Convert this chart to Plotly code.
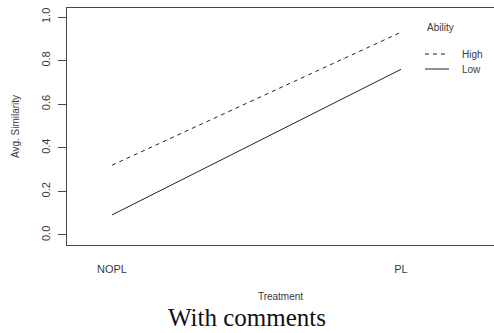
import plotly.graph_objects as go

# Interaction of treatment and ability on average similarity
treatments = ["NOPL", "PL"]
ability_levels = ["High", "Low"]
high_ability = [0.32, 0.93]
low_ability = [0.092, 0.76]
y_ticks = [0.0, 0.2, 0.4, 0.6, 0.8, 1.0]
y_tick_labels = ["0.0", "0.2", "0.4", "0.6", "0.8", "1.0"]

ink = "#222222"
text_col = "#3a3a3a"
sans = "Liberation Sans, Arial, sans-serif"
dash_styles = {"High": "4px,4px", "Low": "solid"}

fig = go.Figure()
for level, values in zip(ability_levels, [high_ability, low_ability]):
    fig.add_trace(go.Scatter(
        x=treatments, y=values, mode="lines", name=level,
        line=dict(color=ink, width=1, dash=dash_styles[level]),
        showlegend=False,
    ))

# Compact legend in the upper right corner, drawn as swatches plus labels
legend_x0, legend_x1, text_x = 0.8384, 0.8946, 0.9204
legend_rows = [0.8059, 0.7426]
shapes = []
annotations = [dict(
    text="Ability", xref="paper", yref="paper", x=legend_x0, y=0.9198,
    xanchor="left", yanchor="middle", showarrow=False,
    font=dict(family=sans, size=10, color=text_col),
)]
for level, row in zip(ability_levels, legend_rows):
    shapes.append(dict(
        type="line", xref="paper", yref="paper",
        x0=legend_x0, x1=legend_x1, y0=row, y1=row,
        line=dict(color=ink, width=1, dash=dash_styles[level]),
    ))
    annotations.append(dict(
        text=level, xref="paper", yref="paper", x=text_x, y=row,
        xanchor="left", yanchor="middle", showarrow=False,
        font=dict(family=sans, size=10, color=text_col),
    ))

# Caption under the figure
annotations.append(dict(
    text="With comments", xref="paper", yref="paper",
    x=0.4227, y=-0.3038, xanchor="center", yanchor="middle", showarrow=False,
    font=dict(family="Liberation Serif, Times New Roman, serif", size=25, color="#111111"),
))

fig.update_layout(
    width=494, height=333,
    margin=dict(l=67, r=0, t=8, b=88),
    plot_bgcolor="white", paper_bgcolor="white",
    font=dict(family=sans, color=text_col, size=10),
    showlegend=False,
    xaxis=dict(
        type="category", categoryorder="array", categoryarray=treatments,
        range=[-0.1557, 1.3218],
        showline=True, linecolor="#444444", linewidth=1, mirror=True,
        showgrid=False, zeroline=False,
        ticks="", ticklabelstandoff=14,
        tickfont=dict(size=11, color=text_col),
        title=dict(text="Treatment", font=dict(size=10, color=text_col), standoff=18),
    ),
    yaxis=dict(
        range=[-0.0459, 1.0413],
        tickvals=y_ticks, ticktext=y_tick_labels,
        showline=True, linecolor="#444444", linewidth=1, mirror=False,
        showgrid=False, zeroline=False,
        ticks="outside", ticklen=8, tickcolor="#444444", tickwidth=1,
        tickangle=-90, ticklabelstandoff=4,
        tickfont=dict(size=11, color=text_col),
        title=dict(text="Avg. Similarity", font=dict(size=10, color=text_col), standoff=18),
    ),
    shapes=shapes,
    annotations=annotations,
)

fig.write_html("out.html")
